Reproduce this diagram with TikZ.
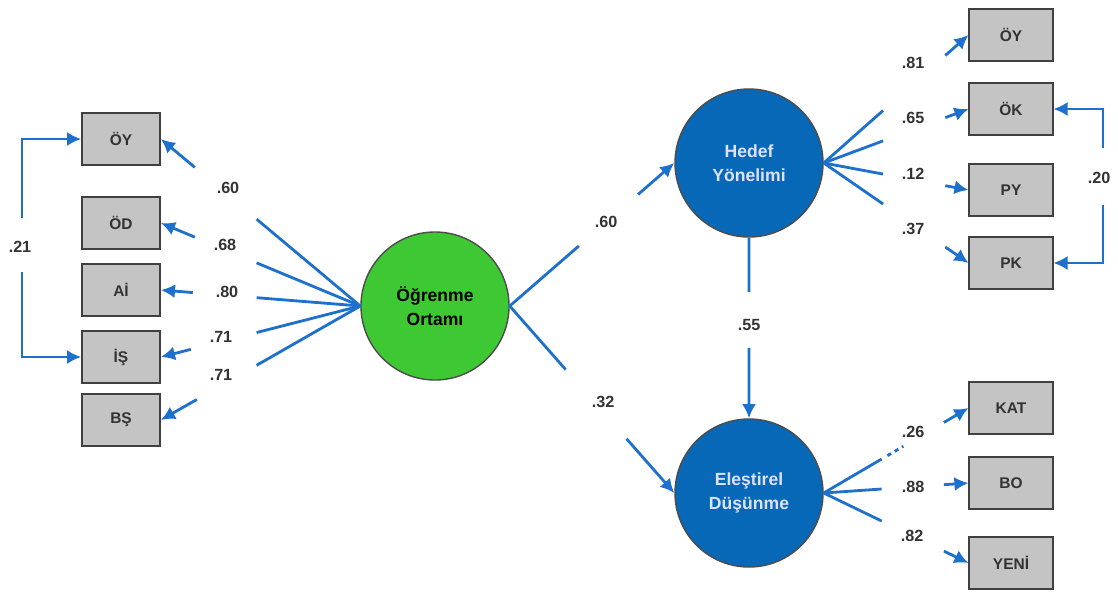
\documentclass[tikz,border=0pt]{standalone}
\usepackage{fontspec}
\setmainfont{Liberation Sans}
\usepackage{xcolor}
\usetikzlibrary{arrows.meta,calc,positioning}
\definecolor{lnkblue}{RGB}{30,112,205}
\definecolor{latblue}{RGB}{8,104,184}
\definecolor{latgreen}{RGB}{62,200,52}
\definecolor{boxgray}{RGB}{196,196,196}
\tikzset{lnk/.style={draw=lnkblue, line width=2pt},
%arrow piece of a broken path
lnkarr/.style={lnk, -{Latex[length=10pt,width=10pt]}},
obs/.style={rectangle, draw=black!75, fill=boxgray, line width=1.3pt, minimum width=1.95cm, minimum height=1.3cm, font=\fontsize{11}{13}\selectfont\bfseries, text=black!80},
obsr/.style={obs, minimum width=2.08cm},
lat/.style={circle, draw=black!70, line width=1pt, minimum size=3.7cm, align=center, font=\fontsize{12.5}{17}\selectfont\bfseries},
lbl/.style={font=\fontsize{11.5}{13}\selectfont\bfseries, text=black!80, inner sep=1pt}}
\newcommand{\gapline}[4]{%
  \draw[lnk] (#1) -- ($(#1)!#3!(#2)$);
  \draw[lnkarr] ($(#1)!#4!(#2)$) -- (#2);}

\begin{document}
\begin{tikzpicture}[x=0.025cm,y=-0.025cm]
  \useasboundingbox (0,0) rectangle (1118,594);

  % latent variables
  \node[lat, fill=latgreen, text=black] (ogr) at (435,306) {Öğrenme\\Ortamı};
  \node[lat, fill=latblue, text=white!88!blue] (hed) at (749,163) {Hedef\\Yönelimi};
  \node[lat, fill=latblue, text=white!88!blue] (ele) at (749,493) {Eleştirel\\Düşünme};

  % observed, left
  \node[obs] (loy) at (121,139) {ÖY};
  \node[obs] (lod) at (121,223) {ÖD};
  \node[obs] (lai) at (121,290) {Aİ};
  \node[obs] (lis) at (121,357) {İŞ};
  \node[obs] (lbs) at (121,420) {BŞ};

  % observed, right
  \node[obsr] (roy) at (1011,35) {ÖY};
  \node[obsr] (rok) at (1011,109) {ÖK};
  \node[obsr] (rpy) at (1011,190) {PY};
  \node[obsr] (rpk) at (1011,263) {PK};
  \node[obsr] (rkat) at (1011,408) {KAT};
  \node[obsr] (rbo) at (1011,483) {BO};
  \node[obsr] (ryeni) at (1011,563) {YENİ};

  \gapline{ogr.west}{loy.east}{0.52}{0.83}
  \gapline{ogr.west}{lod.east}{0.52}{0.83}
  \gapline{ogr.west}{lai.east}{0.52}{0.84}
  \gapline{ogr.west}{lis.east}{0.52}{0.85}
  \gapline{ogr.west}{lbs.east}{0.52}{0.82}

  \gapline{hed.east}{roy.west}{0.41}{0.84}
  \gapline{hed.east}{rok.west}{0.41}{0.84}
  \gapline{hed.east}{rpy.west}{0.41}{0.84}
  \gapline{hed.east}{rpk.west}{0.41}{0.84}

  \gapline{ele.east}{rkat.west}{0.40}{0.83}
  \draw[lnk, dashed] ($(ele.east)!0.44!(rkat.west)$) -- ($(ele.east)!0.55!(rkat.west)$);
  \gapline{ele.east}{rbo.west}{0.40}{0.83}
  \gapline{ele.east}{ryeni.west}{0.40}{0.83}

  \gapline{ogr.east}{hed.west}{0.42}{0.78}
  \gapline{ogr.east}{ele.west}{0.34}{0.71}
  \gapline{hed.south}{ele.north}{0.30}{0.61}

  % correlations
  \coordinate (cl1) at (22,218);
  \coordinate (cl2) at (22,272);
  \draw[lnkarr, line width=1.5pt] (cl1) |- (loy.west);
  \draw[lnkarr, line width=1.5pt] (cl2) |- (lis.west);
  \coordinate (cr1) at (1103,148);
  \coordinate (cr2) at (1103,205);
  \draw[lnkarr, line width=1.5pt] (cr1) |- (rok.east);
  \draw[lnkarr, line width=1.5pt] (cr2) |- (rpk.east);

  % coefficients
  \node[lbl] (k1) at (228,188) {.60};
  \node[lbl] (k2) at (225,245) {.68};
  \node[lbl] (k3) at (227,292) {.80};
  \node[lbl] (k4) at (221,337) {.71};
  \node[lbl] (k5) at (221,375) {.71};
  \node[lbl] (k6) at (20,247) {.21};
  \node[lbl] (k7) at (606,222) {.60};
  \node[lbl] (k8) at (603,402) {.32};
  \node[lbl] (k9) at (749,325) {.55};
  \node[lbl] (k10) at (913,63) {.81};
  \node[lbl] (k11) at (913,118) {.65};
  \node[lbl] (k12) at (913,174) {.12};
  \node[lbl] (k13) at (913,229) {.37};
  \node[lbl] (k14) at (1099,178) {.20};
  \node[lbl] (k15) at (913,432) {.26};
  \node[lbl] (k16) at (913,487) {.88};
  \node[lbl] (k17) at (912,536) {.82};
\end{tikzpicture}
\end{document}
